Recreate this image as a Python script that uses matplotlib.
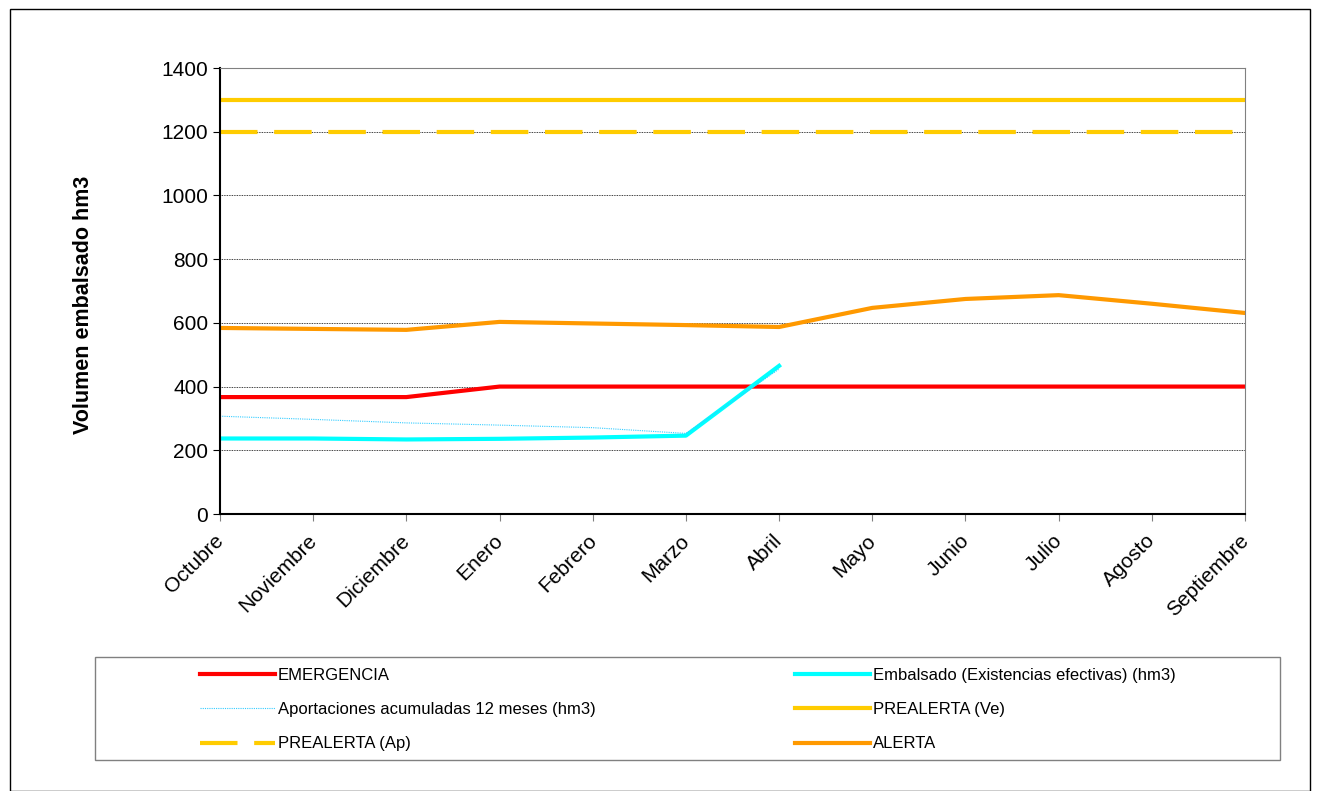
import matplotlib.pyplot as plt
from matplotlib.patches import Rectangle
from matplotlib.transforms import ScaledTranslation

plt.rcParams['font.family'] = ['Liberation Sans', 'DejaVu Sans']

meses = ["Octubre", "Noviembre", "Diciembre", "Enero", "Febrero", "Marzo",
         "Abril", "Mayo", "Junio", "Julio", "Agosto", "Septiembre"]

emergencia = [367, 367, 367, 400, 400, 400, 400, 400, 400, 400, 400, 400]
alerta = [584, 581, 578, 603, 598, 593, 587, 647, 675, 687, 660, 631]
prealerta_ve = [1300] * 12
prealerta_ap = [1200] * 12
embalsado = [237, 237, 234, 236, 240, 246, 465]
aportaciones = [307, 297, 286, 279, 271, 253, 455]

W, H = 1317, 791
fig = plt.figure(figsize=(W / 100, H / 100), dpi=100)
# outer frame of the chart
fig.patches.append(Rectangle((10 / W, 0), 1300 / W, 1 - 9 / H,
                             transform=fig.transFigure, fill=False,
                             edgecolor="black", linewidth=1))

ax = fig.add_axes([220 / W, 1 - 514 / H, 1025 / W, 446 / H])
x = list(range(12))

ax.plot(x, emergencia, color="#FF0000", lw=3, label="EMERGENCIA")
ax.plot(x[:7], embalsado, color="#00FFFF", lw=3,
        label="Embalsado (Existencias efectivas) (hm3)")
ax.plot(x[:7], aportaciones, color="#33CCFF", lw=0.8, ls=(0, (1, 1)),
        label="Aportaciones acumuladas 12 meses (hm3)")
ax.plot(x, prealerta_ve, color="#FFCC00", lw=3, label="PREALERTA (Ve)")
ax.plot(x, prealerta_ap, color="#FFCC00", lw=3, dashes=(9, 4),
        label="PREALERTA (Ap)")
ax.plot(x, alerta, color="#FF9900", lw=3, label="ALERTA")

ax.set_xlim(0, 11)
ax.set_ylim(0, 1400)
ax.set_yticks(range(0, 1401, 200))
ax.set_xticks(x)
ax.set_xticklabels([])
# month labels placed by hand so they sit like the original
shift = ScaledTranslation(-6 / 100, -17 / 100, fig.dpi_scale_trans)
for i, m in enumerate(meses):
    ax.text(i, 0, m, transform=ax.get_xaxis_transform() + shift,
            rotation=45, ha="right", va="top", rotation_mode="anchor",
            fontsize=15)
ax.tick_params(axis="y", labelsize=15, direction="out", length=5)
ax.tick_params(axis="x", direction="out", length=5, color="gray")
ax.yaxis.grid(True, color="black", ls=(0, (1, 1)), lw=0.6)
ax.set_axisbelow(True)
for side in ["top", "right"]:
    ax.spines[side].set_color("gray")
ax.spines["left"].set_linewidth(1.5)
ax.spines["bottom"].set_linewidth(1.5)

ax.set_ylabel("Volumen embalsado hm3", fontsize=15.5, fontweight="bold")
ax.yaxis.set_label_coords(-0.123, 0.469)

handles, labels = ax.get_legend_handles_labels()
order = [0, 2, 4, 1, 3, 5]
fig.legend([handles[i] for i in order], [labels[i] for i in order],
           loc="upper left", bbox_to_anchor=(200 / W, 1 - 668 / H),
           ncol=2, fontsize=12, handlelength=4.5, handletextpad=0.15,
           columnspacing=12, labelspacing=1.15, borderpad=0,
           borderaxespad=0, frameon=False)
fig.patches.append(Rectangle((95 / W, 1 - 760 / H), 1185 / W, 103 / H,
                             transform=fig.transFigure, fill=False,
                             edgecolor="gray", linewidth=1))

fig.savefig("out.png", dpi=100)
